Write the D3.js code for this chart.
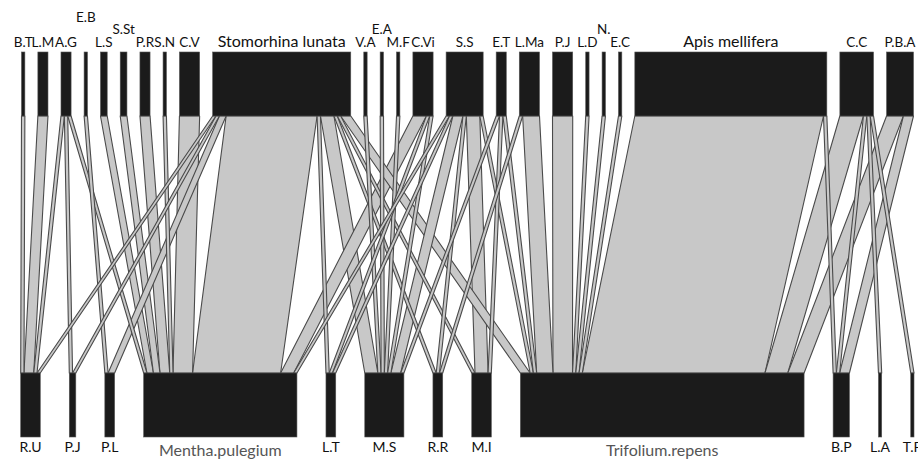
<!DOCTYPE html>
<html><head><meta charset="utf-8">
<script src="https://cdn.jsdelivr.net/npm/d3@7"></script>
<style>html,body{margin:0;padding:0;background:#fff}svg{display:block}</style>
</head><body>
<svg id="chart" width="918" height="459"></svg>
<script>
// ---- data ----
const pollinators = ["B.T","L.M","A.G","E.B","L.S","S.St","P.R","S.N","C.V","Stomorhina lunata","V.A","E.A","M.F","C.Vi","S.S","E.T","L.Ma","P.J","L.D","N.","E.C","Apis mellifera","C.C","P.B.A"];
const plants = ["R.U","P.J","P.L","Mentha.pulegium","L.T","M.S","R.R","M.I","Trifolium.repens","B.P","L.A","T.P"];
const fullNamePlants = ["Mentha.pulegium","Trifolium.repens"];
const visits = [
  ["B.T","R.U",1],
  ["L.M","R.U",3],
  ["A.G","R.U",1],["A.G","P.J",1],["A.G","Mentha.pulegium",1],
  ["E.B","P.L",1],
  ["L.S","Mentha.pulegium",2],
  ["S.St","Mentha.pulegium",2],
  ["P.R","Mentha.pulegium",3],
  ["S.N","Mentha.pulegium",1],
  ["C.V","Mentha.pulegium",6],
  ["Stomorhina lunata","R.U",1],["Stomorhina lunata","P.J",1],["Stomorhina lunata","P.L",2],
  ["Stomorhina lunata","Mentha.pulegium",27],["Stomorhina lunata","L.T",1],["Stomorhina lunata","M.S",4],
  ["Stomorhina lunata","R.R",1],["Stomorhina lunata","M.I",1],["Stomorhina lunata","Trifolium.repens",3],
  ["V.A","M.S",1],
  ["E.A","M.S",1],
  ["M.F","M.S",1],
  ["C.Vi","Mentha.pulegium",4],["C.Vi","L.T",1],["C.Vi","M.S",1],
  ["S.S","Mentha.pulegium",1],["S.S","L.T",1],["S.S","M.S",3],["S.S","R.R",1],["S.S","M.I",4],["S.S","Trifolium.repens",1],
  ["E.T","M.S",1],["E.T","M.I",1],["E.T","Trifolium.repens",1],
  ["L.Ma","R.R",1],["L.Ma","Trifolium.repens",5],
  ["P.J","Trifolium.repens",6],
  ["L.D","Trifolium.repens",1],
  ["N.","Trifolium.repens",1],
  ["E.C","Trifolium.repens",1],
  ["Apis mellifera","Trifolium.repens",56],["Apis mellifera","B.P",1],
  ["C.C","Trifolium.repens",7],["C.C","B.P",1],["C.C","L.A",1],["C.C","T.P",1],
  ["P.B.A","Trifolium.repens",5],["P.B.A","B.P",3]
];

// ---- layout ----
const topY0 = 52, topY1 = 116, botY0 = 373, botY1 = 437;
const topGapUnits = 3.86, botGapUnits = 8.9;
const raisedTier = {"E.B": 2, "S.St": 1, "E.A": 1, "N.": 1};

const svg = d3.select("#chart");

const topTotals = pollinators.map(p => d3.sum(visits.filter(v => v[0] === p), v => v[2]));
const botTotals = plants.map(q => d3.sum(visits.filter(v => v[1] === q), v => v[2]));

function layout(names, totals, gapUnits, r0, r1) {
  const n = names.length;
  const N = d3.sum(totals);
  const sc = d3.scaleLinear().domain([0, N + (n - 1) * gapUnits]).range([r0, r1]);
  let cum = 0;
  const boxes = names.map((nm, i) => {
    const a = cum + i * gapUnits;
    cum += totals[i];
    return {name: nm, u0: a, u1: a + totals[i]};
  });
  return {sc, boxes};
}
const topL = layout(pollinators, topTotals, topGapUnits, 21.5, 913.5);
const botL = layout(plants, botTotals, botGapUnits, 20.7, 914);

const topCursor = {}; topL.boxes.forEach(b => topCursor[b.name] = b.u0);
const botCursor = {}; botL.boxes.forEach(b => botCursor[b.name] = b.u0);
const links = [];
pollinators.forEach(p => {
  plants.forEach(q => {
    const v = visits.find(d => d[0] === p && d[1] === q);
    if (v) { links.push({p, q, v: v[2], t0: topCursor[p], t1: topCursor[p] + v[2]}); topCursor[p] += v[2]; }
  });
});
plants.forEach(q => {
  pollinators.forEach(p => {
    const l = links.find(d => d.p === p && d.q === q);
    if (l) { l.b0 = botCursor[q]; l.b1 = botCursor[q] + l.v; botCursor[q] += l.v; }
  });
});

const sortedLinks = links.slice().sort((a, b) => b.v - a.v);
svg.append("g").selectAll("path").data(sortedLinks).join("path")
  .attr("d", d => {
    const x0 = topL.sc(d.t0), x1 = topL.sc(d.t1), y0 = topY1;
    const b0 = botL.sc(d.b0), b1 = botL.sc(d.b1), y1 = botY0;
    return `M${x0},${y0}L${x1},${y0}L${b1},${y1}L${b0},${y1}Z`;
  })
  .attr("fill", "#c8c8c8")
  .attr("stroke", "#4a4a4a")
  .attr("stroke-width", 1.1)
  .attr("stroke-linejoin", "round");

svg.append("g").selectAll("rect").data(topL.boxes).join("rect")
  .attr("x", d => topL.sc(d.u0)).attr("width", d => topL.sc(d.u1) - topL.sc(d.u0))
  .attr("y", topY0).attr("height", topY1 - topY0)
  .attr("fill", "#1b1b1b").attr("stroke", "#555").attr("stroke-width", 0.6);
svg.append("g").selectAll("rect").data(botL.boxes).join("rect")
  .attr("x", d => botL.sc(d.u0)).attr("width", d => botL.sc(d.u1) - botL.sc(d.u0))
  .attr("y", botY0).attr("height", botY1 - botY0)
  .attr("fill", "#1b1b1b").attr("stroke", "#555").attr("stroke-width", 0.6);

const tierY = [47, 34, 22];
const isLong = s => s.length > 6;
svg.append("g").selectAll("text").data(topL.boxes).join("text")
  .attr("x", d => (topL.sc(d.u0) + topL.sc(d.u1)) / 2)
  .attr("y", d => tierY[raisedTier[d.name] || 0])
  .attr("text-anchor", "middle")
  .attr("font-family", "Lato, 'Liberation Sans', sans-serif")
  .attr("font-size", d => isLong(d.name) ? 16 : 13.5)
  .attr("fill", "#111")
  .text(d => d.name);

svg.append("g").selectAll("text").data(botL.boxes).join("text")
  .attr("x", d => (botL.sc(d.u0) + botL.sc(d.u1)) / 2)
  .attr("y", d => fullNamePlants.includes(d.name) ? 456 : 452)
  .attr("text-anchor", "middle")
  .attr("font-family", "Lato, 'Liberation Sans', sans-serif")
  .attr("font-size", d => fullNamePlants.includes(d.name) ? 16 : 14)
  .attr("fill", d => fullNamePlants.includes(d.name) ? "#555" : "#111")
  .text(d => d.name);
</script>
</body></html>
